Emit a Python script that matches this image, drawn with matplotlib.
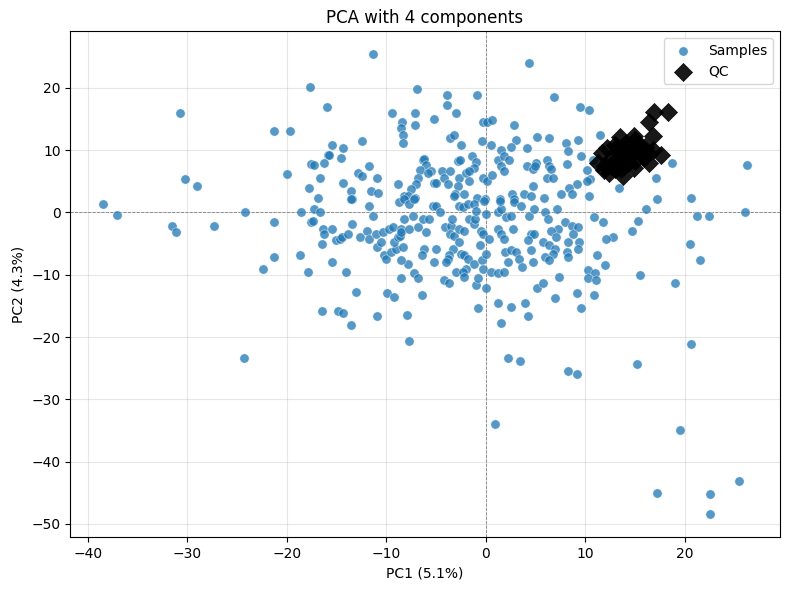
import numpy as np
import matplotlib
matplotlib.use("Agg")
import matplotlib.pyplot as plt

# (PC1, PC2), grouped by region
left_tail = np.array([
    (-38.5, 1.4), (-37.0, -0.4), (-30.7, 15.9), (-30.2, 5.3), (-29.0, 4.2),
    (-31.5, -2.1), (-31.1, -3.1), (-27.3, -2.2), (-24.2, 0.0), (-21.3, 13.0),
    (-21.3, -1.6), (-21.3, -7.2), (-22.4, -9.1), (-24.3, -23.4),
])

upper_cloud = np.array([
    (-19.7, 13.0), (-20.0, 6.1), (-17.7, 20.1), (-15.9, 16.9), (-11.3, 25.4),
    (4.3, 24.0), (-6.9, 19.8), (-3.9, 18.8), (-0.9, 18.8), (-3.9, 17.2),
    (-9.4, 15.9), (-7.1, 15.9), (-3.0, 15.9), (-8.4, 14.5), (-7.1, 14.0),
    (-8.5, 13.5), (-8.3, 12.5), (-8.3, 11.1), (-5.2, 15.0), (-0.3, 14.5),
    (0.1, 14.6), (0.6, 14.8), (2.8, 14.1), (-3.6, 11.9), (-3.2, 12.4),
    (-2.5, 10.9), (-0.4, 11.4), (0.5, 10.8), (3.0, 11.6), (2.5, 10.5),
    (4.1, 10.3), (5.2, 12.1), (-15.4, 10.9), (-14.3, 10.4), (-12.4, 11.4),
    (6.9, 18.5), (9.5, 16.9), (10.4, 16.4), (6.4, 11.9), (8.1, 11.1),
    (9.3, 11.7), (11.5, 12.5),
])

core_left = np.array([
    (-17.6, 7.7), (-17.8, 4.0), (-15.8, 9.2), (-15.7, 9.3), (-14.5, 8.7),
    (-17.3, 7.6), (-16.3, 7.9), (-16.7, 5.6), (-16.9, 2.4), (-14.3, 4.7),
    (-13.5, 3.5), (-13.4, 2.2), (-12.8, 6.3), (-12.4, 5.8), (-11.7, 7.4),
    (-10.9, 5.5), (-11.5, 3.5), (-10.8, 3.2), (-18.6, 0.0), (-17.6, -1.6),
    (-18.7, -6.8), (-17.9, -9.5), (-13.5, 2.1), (-11.7, 1.0), (-17.3, 0.6),
    (-16.7, 0.0), (-17.4, -1.4), (-16.4, -2.6), (-16.3, -3.5), (-15.4, -2.6),
    (-16.5, -5.1), (-13.4, -1.8), (-15.0, -4.5), (-14.6, -4.2), (-14.4, -4.0),
    (-13.8, -3.5), (-11.3, -0.5), (-12.6, -4.0), (-11.9, -2.9), (-11.7, -4.2),
    (-10.9, -5.6), (-11.0, -3.4), (-10.3, -3.2), (-10.5, -4.8), (-15.4, -7.9),
    (-14.0, -9.5), (-13.0, -12.7), (-16.5, -15.8), (-14.8, -15.9), (-14.3, -16.1),
    (-13.5, -18.0), (-10.9, -16.6),
])

core_mid = np.array([
    (-8.8, 4.5), (-6.3, 8.5), (-6.2, 8.6), (-6.0, 7.6), (-6.6, 6.8),
    (-5.5, 6.6), (-5.8, 6.3), (-6.8, 5.5), (-7.0, 4.5), (-7.5, 3.7),
    (-8.2, 2.7), (-7.8, 2.6), (-7.1, 2.3), (-5.2, 4.7), (-5.0, 4.7),
    (-4.4, 6.6), (-3.6, 6.6), (-4.2, 5.5), (-3.8, 4.6), (-2.8, 8.2),
    (-2.6, 8.4), (-2.7, 5.5), (-2.8, 4.2), (-3.1, 2.9), (-2.2, 2.9),
    (-2.0, 6.4), (-1.4, 9.0), (-1.0, 8.1), (-1.2, 7.1), (-1.7, 6.6),
    (-1.7, 5.0), (-0.3, 5.5), (0.1, 5.1), (0.6, 6.0), (-0.9, 2.3),
    (-0.1, 2.1), (1.2, 8.5), (1.5, 10.1), (1.8, 9.0), (2.3, 8.4),
    (1.5, 7.4), (1.8, 6.7), (4.1, 7.4), (4.7, 6.9), (5.1, 8.0),
    (4.7, 4.2), (2.6, 2.9), (3.8, 2.9), (1.4, 2.1), (2.8, 2.1),
    (-9.9, -13.0), (-9.2, -13.5), (-7.9, -16.4), (-7.7, -20.6), (-6.4, -13.2),
    (-8.5, -10.6), (-7.2, -9.8), (-6.8, -10.6), (-7.8, -8.2), (-8.5, -7.6),
    (-10.2, -6.9), (-10.0, -7.4), (-9.5, -6.4), (-9.0, -5.8), (-8.3, -5.6),
    (-9.2, -4.8), (-8.8, -4.0), (-8.6, -3.7), (-9.7, -2.6), (-9.3, -2.4),
    (-8.5, -2.6), (-8.5, -3.2), (-8.7, 1.6), (-8.2, 2.1), (-7.7, 1.4),
    (-7.2, 2.1), (-8.2, -1.0), (-7.3, -0.5), (-7.7, -2.6), (-6.8, -2.4),
    (-6.3, -1.0), (-6.0, -3.2), (-5.7, -1.0), (-5.3, 1.0), (-5.0, 1.1),
    (-4.6, 0.0), (-6.2, -5.8), (-6.4, -6.9), (-5.0, -5.8), (-5.2, -7.9),
    (-4.1, -2.4), (-3.5, -2.1), (-3.4, -1.0), (-3.6, -3.5), (-3.2, -3.7),
    (-2.7, -2.6), (-2.2, -2.9), (-3.2, 2.7), (-2.7, 1.1), (-2.3, 0.8),
    (-1.8, 1.3), (-1.2, 1.4), (-1.7, -1.0), (-1.2, -1.8), (-1.1, -1.0),
    (-1.0, 0.3), (-0.2, 1.9), (0.0, -0.2), (-0.5, -2.9), (-0.3, -3.4),
    (0.3, -4.2), (-3.3, -5.8), (-3.7, -6.9), (-3.8, -7.4), (-4.0, -8.0),
    (-2.5, -6.6), (-2.2, -6.9), (-2.7, -4.8), (-1.8, -7.4), (-1.2, -8.2),
    (-2.0, -9.0), (-3.0, -9.5), (-2.3, -9.6), (-2.2, -10.4), (-0.4, -7.7),
    (-0.3, -9.0), (0.0, -6.6), (-0.6, -5.3), (-4.2, -10.9), (-3.7, -11.3),
    (-1.0, -11.7), (-0.8, -10.6), (0.0, -12.1), (-0.8, -15.3), (0.5, -9.5),
    (1.2, -9.8), (1.8, -9.6), (1.2, -14.5), (2.5, -15.1), (3.9, -14.5),
    (4.2, -16.7), (1.5, -17.8), (2.2, -23.3), (3.4, -23.9), (1.2, -2.6),
    (1.5, -3.4), (1.8, -4.2), (1.2, 0.0), (1.5, 0.6), (2.0, -0.8),
    (2.5, -0.5), (2.7, -2.6), (2.8, 1.6), (3.5, 1.1), (1.4, 1.9),
    (1.9, -6.4), (2.5, -6.1), (3.0, -6.3), (2.2, -8.0), (3.3, -7.4),
    (4.5, -6.1), (4.7, -8.0), (3.6, -8.8), (4.5, -3.5), (4.8, -3.4),
    (4.2, -4.5), (4.3, -0.5), (4.8, 0.6), (5.2, -12.2), (4.5, 2.7),
    (0.9, -33.9),
])

right_side = np.array([
    (8.3, 9.8), (9.6, 9.0), (6.2, 8.5), (6.4, 7.4), (8.2, 7.7),
    (5.0, 7.4), (6.6, 6.9), (6.2, 5.6), (6.8, 5.5), (10.2, 6.8),
    (10.8, 8.5), (10.5, 5.3), (10.2, 5.0), (9.2, 4.5), (8.4, 3.9),
    (8.7, 2.9), (7.6, 2.9), (5.9, 2.4), (10.4, 2.7), (13.4, 4.0),
    (17.1, 5.6), (18.7, 7.9), (26.3, 7.6), (17.2, 2.1), (20.6, 2.4),
    (6.0, 0.0), (6.3, -1.0), (7.2, 0.6), (10.9, -0.8), (11.8, -1.6),
    (16.1, 0.6), (15.3, -1.3), (14.7, -2.9), (21.2, -0.6), (22.4, -0.5),
    (26.1, 0.0), (12.8, -3.9), (12.1, -4.3), (8.0, -1.6), (8.7, -2.1),
    (9.3, -2.4), (8.8, -3.4), (7.3, -2.6), (6.6, -2.9), (7.1, -4.0),
    (5.8, -4.8), (6.4, -5.3), (7.0, -5.8), (6.8, -6.6), (8.3, -4.8),
    (9.4, -4.8), (9.3, -5.9), (8.2, -6.4), (8.3, -7.2), (6.0, -7.2),
    (6.4, -7.6), (11.2, -6.9), (12.0, -8.5), (10.3, -9.2), (11.0, -9.8),
    (10.3, -10.6), (11.1, -10.9), (7.4, -10.4), (5.8, -11.3), (7.0, -13.7),
    (9.2, -12.9), (10.9, -13.3), (9.6, -15.4), (15.5, -10.0), (19.0, -11.3),
    (20.5, -5.0), (21.5, -7.6), (20.6, -21.1), (15.2, -24.3), (8.3, -25.4),
    (9.2, -26.0), (19.5, -35.0), (25.4, -43.1), (17.2, -45.1), (22.5, -45.2),
    (22.5, -48.4),
])

qc_pc1 = [18.3, 16.9, 16.4, 16.8, 13.5, 14.9, 17.6, 16.8, 15.9, 12.2, 11.7, 11.3,
          11.9, 13.8, 14.9, 16.4, 15.3, 14.2, 13.2, 12.8, 14.0, 15.6, 13.6, 12.6,
          14.8, 16.1, 13.0, 15.0, 13.5, 14.0, 12.5, 13.0, 14.5, 15.5, 14.0, 13.2,
          12.0, 15.0, 16.0, 14.3, 13.7, 12.4]
qc_pc2 = [16.1, 16.2, 14.5, 12.2, 12.1, 12.3, 9.3, 10.0, 8.7, 10.4, 9.5, 7.9,
          6.8, 5.9, 7.2, 8.0, 11.0, 10.5, 9.8, 8.0, 8.6, 10.3, 7.0, 7.5,
          9.5, 9.9, 10.8, 11.6, 8.0, 10.0, 8.5, 7.0, 9.0, 9.5, 11.0, 10.5,
          7.5, 8.2, 10.5, 8.0, 9.4, 6.4]

samples = np.vstack([left_tail, upper_cloud, core_left, core_mid, right_side])

fig, ax = plt.subplots(figsize=(7.9, 5.9), dpi=100)

ax.scatter(samples[:, 0], samples[:, 1], s=45, c="#1f77b4", alpha=0.75,
           edgecolors="white", linewidths=0.4, label="Samples", zorder=2)
ax.scatter(qc_pc1, qc_pc2, s=85, marker="D", c="black", alpha=0.9,
           edgecolors="black", linewidths=0.5, label="QC", zorder=3)

ax.axhline(0, color="gray", linestyle="--", linewidth=0.6, zorder=1)
ax.axvline(0, color="gray", linestyle="--", linewidth=0.6, zorder=1)
ax.grid(True, alpha=0.3)
ax.set_axisbelow(True)

ax.set_xlabel("PC1 (5.1%)")
ax.set_ylabel("PC2 (4.3%)")
ax.set_title("PCA with 4 components")
ax.legend(loc="upper right")

fig.subplots_adjust(left=0.089, right=0.987, top=0.947, bottom=0.09)
fig.savefig("out.png", dpi=100)
